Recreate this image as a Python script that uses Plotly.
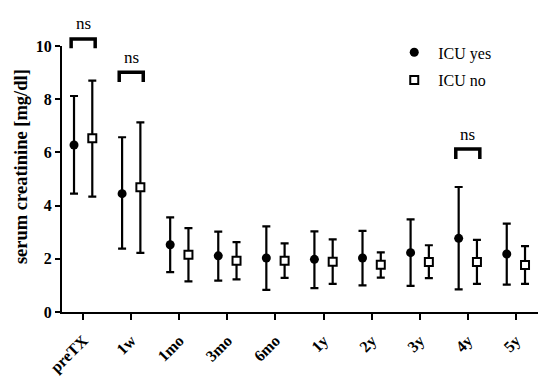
import plotly.graph_objects as go

categories = ["preTX", "1w", "1mo", "3mo", "6mo", "1y", "2y", "3y", "4y", "5y"]
yes_mean = [6.28, 4.45, 2.53, 2.11, 2.03, 1.98, 2.03, 2.23, 2.77, 2.18]
yes_upper = [8.12, 6.57, 3.56, 3.02, 3.22, 3.03, 3.05, 3.48, 4.70, 3.32]
yes_lower = [4.45, 2.38, 1.50, 1.18, 0.83, 0.90, 1.00, 0.98, 0.85, 1.03]
no_mean = [6.53, 4.69, 2.15, 1.93, 1.93, 1.89, 1.78, 1.88, 1.88, 1.77]
no_upper = [8.70, 7.13, 3.15, 2.63, 2.58, 2.73, 2.24, 2.51, 2.71, 2.48]
no_lower = [4.34, 2.22, 1.15, 1.23, 1.28, 1.06, 1.29, 1.27, 1.06, 1.06]

# significance brackets: category index, bracket top value, leg bottom value, label y
sig_idx = [0, 1, 8]
sig_top = [10.26, 9.01, 6.13]
sig_leg = [9.92, 8.65, 5.75]
sig_label_y = [10.83, 9.55, 6.69]
sig_text = ["ns", "ns", "ns"]

FONT = "Liberation Serif"
off = 0.19
xs = list(range(len(categories)))
yr = [0, 10]


def to_paper(v):
    return (v - yr[0]) / (yr[1] - yr[0])


fig = go.Figure()
fig.add_trace(go.Scatter(
    x=[i - off for i in xs], y=yes_mean, mode="markers", name="\u00a0ICU yes",
    legendgroup="a",
    marker=dict(symbol="circle", size=9, color="black"),
    error_y=dict(type="data", symmetric=False,
                 array=[u - m for u, m in zip(yes_upper, yes_mean)],
                 arrayminus=[m - l for m, l in zip(yes_mean, yes_lower)],
                 color="black", thickness=2.2, width=4),
))
fig.add_trace(go.Scatter(
    x=[i + off for i in xs], y=no_mean, mode="markers", name="\u00a0ICU no",
    legendgroup="b",
    marker=dict(symbol="square", size=8, color="white", line=dict(color="black", width=2)),
    error_y=dict(type="data", symmetric=False,
                 array=[u - m for u, m in zip(no_upper, no_mean)],
                 arrayminus=[m - l for m, l in zip(no_mean, no_lower)],
                 color="black", thickness=2.2, width=4),
))

for i, t, l, ly, txt in zip(sig_idx, sig_top, sig_leg, sig_label_y, sig_text):
    x0, x1 = i - 0.25, i + 0.25
    pt, pl = to_paper(t), to_paper(l)
    fig.add_shape(type="path", xref="x", yref="paper",
                  path=f"M {x0} {pl} L {x0} {pt} L {x1} {pt} L {x1} {pl}",
                  line=dict(color="black", width=3.5))
    fig.add_annotation(x=i, y=to_paper(ly), xref="x", yref="paper", text=txt, showarrow=False,
                       xanchor="center", yanchor="middle",
                       font=dict(family=FONT, size=17, color="black"))

# y-axis title (placed as rotated text)
fig.add_annotation(x=-0.086, y=0.545, xref="paper", yref="paper",
                   text="serum creatinine [mg/dl]", textangle=-90, showarrow=False,
                   xanchor="center", yanchor="middle",
                   font=dict(family=FONT, size=18.5, color="black", weight="bold"))

fig.update_layout(
    width=550, height=377,
    margin=dict(l=62, r=12, t=46, b=65),
    paper_bgcolor="white", plot_bgcolor="white",
    font=dict(family=FONT, color="black"),
    showlegend=True,
    legend=dict(x=0.698, y=1.04, xanchor="left", yanchor="top",
                traceorder="grouped", tracegroupgap=4,
                font=dict(family=FONT, size=16, color="black"),
                bgcolor="rgba(0,0,0,0)"),
    xaxis=dict(range=[-0.44, 9.46], tickmode="array", tickvals=xs, ticktext=categories,
               tickangle=-45, showgrid=False, zeroline=False, automargin=False,
               showline=True, linecolor="black", linewidth=2,
               ticks="outside", ticklen=6, tickwidth=2, tickcolor="black",
               ticklabelstandoff=5,
               tickfont=dict(family=FONT, size=16, color="black", weight="bold")),
    yaxis=dict(range=yr, tickvals=[0, 2, 4, 6, 8, 10], showgrid=False, zeroline=False,
               automargin=False,
               showline=True, linecolor="black", linewidth=2,
               ticks="outside", ticklen=5, tickwidth=2, tickcolor="black",
               tickfont=dict(family=FONT, size=16, color="black", weight="bold")),
)

fig.write_html("out.html", config={"displayModeBar": False},
               post_script="document.body.style.margin='0';")
